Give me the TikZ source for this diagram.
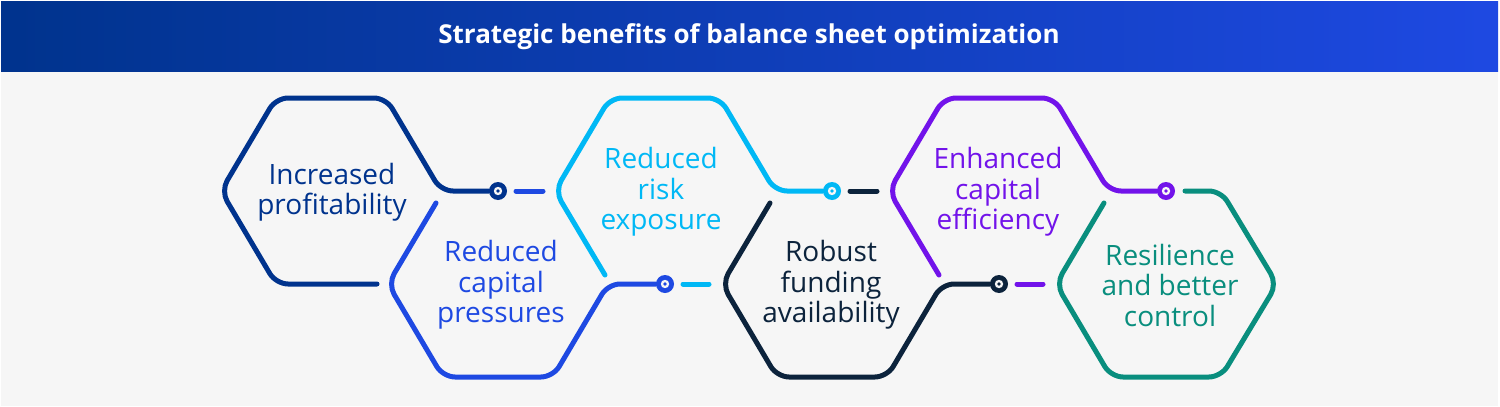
\documentclass[tikz,border=0pt]{standalone}
\usepackage{fontspec}
\setmainfont{Open Sans}
\definecolor{kblue}{HTML}{00338D}
\definecolor{kcobalt}{HTML}{1E49E2}
\definecolor{klight}{HTML}{00B8F5}
\definecolor{kdark}{HTML}{0C233C}
\definecolor{kpurple}{HTML}{7213EA}
\definecolor{kgreen}{HTML}{098E7E}
\definecolor{kbg}{HTML}{F6F6F6}
\begin{document}
\begin{tikzpicture}[x=1pt,y=-1pt,
  hexline/.style={draw=#1, line width=5pt, rounded corners=12pt, line cap=round, line join=round},
  dashseg/.style={draw=#1, line width=5pt, line cap=round},
  dot/.style={circle, fill=#1, minimum size=18pt, inner sep=0pt,
    path picture={\fill[kbg] (path picture bounding box.center) circle (4.2pt);
                  \fill[#1] (path picture bounding box.center) circle (1.9pt);}},
  lbl/.style={text=#1, align=center, inner sep=0pt, font=\fontsize{28}{30.5}\selectfont}
]
\useasboundingbox (0,0) rectangle (1500,407);
\fill[white] (0,0) rectangle (1500,407);
\fill[kbg] (1,1) rectangle (1498,406);
\shade[left color=kblue, right color=kcobalt] (1,1) rectangle (1498,71);
\node[text=white, font=\bfseries\fontsize{26}{30}\selectfont] (title) at (749,37) {Strategic benefits of balance sheet optimization};

% dots
\node[dot=kblue]   (d1) at (498,191) {};
\node[dot=kcobalt] (d2) at (665,284) {};
\node[dot=klight]  (d3) at (832,191) {};
\node[dot=kdark]   (d4) at (999,284) {};
\node[dot=kpurple] (d5) at (1166,191) {};

% H1 (up, centre 331,191)
\draw[hexline=kblue] (377,284) -- (276,284) -- (221,191) -- (276,98) -- (386,98) -- (441,191) -- (d1);
% H2 (down, centre 498,284)
\draw[hexline=kcobalt] (436,203) -- (388,284) -- (443,377) -- (553,377) -- (608,284) -- (d2);
\coordinate (t2a) at (516,191); \coordinate (t2b) at (543,191);
\draw[dashseg=kcobalt] (t2a) -- (t2b);
% H3 (up, centre 665,191)
\draw[hexline=klight] (605,275) -- (555,191) -- (610,98) -- (720,98) -- (775,191) -- (d3);
\coordinate (t3a) at (683,284); \coordinate (t3b) at (709,284);
\draw[dashseg=klight] (t3a) -- (t3b);
% H4 (down, centre 832,284)
\draw[hexline=kdark] (770,203) -- (722,284) -- (777,377) -- (887,377) -- (942,284) -- (d4);
\coordinate (t4a) at (850,191); \coordinate (t4b) at (877,191);
\draw[dashseg=kdark] (t4a) -- (t4b);
% H5 (up, centre 999,191)
\draw[hexline=kpurple] (939,275) -- (889,191) -- (944,98) -- (1054,98) -- (1109,191) -- (d5);
\coordinate (t5a) at (1017,284); \coordinate (t5b) at (1043,284);
\draw[dashseg=kpurple] (t5a) -- (t5b);
% H6 (down, centre 1166,284)
\draw[hexline=kgreen] (1185,191) -- (1221,191) -- (1277,284) -- (1221,377) -- (1111,377) -- (1056,284) -- (1104,203);

% labels
\node[lbl=kblue]   (l1) at (332,192) {Increased\\profitability};
\node[lbl=kcobalt] (l2) at (501,285) {Reduced\\capital\\pressures};
\node[lbl=klight]  (l3) at (661,192) {Reduced\\risk\\exposure};
\node[lbl=kdark]   (l4) at (831,285) {Robust\\funding\\availability};
\node[lbl=kpurple] (l5) at (998,192) {Enhanced\\capital\\efficiency};
\node[lbl=kgreen]  (l6) at (1170,285) {Resilience\\and better\\control};
\end{tikzpicture}
\end{document}
